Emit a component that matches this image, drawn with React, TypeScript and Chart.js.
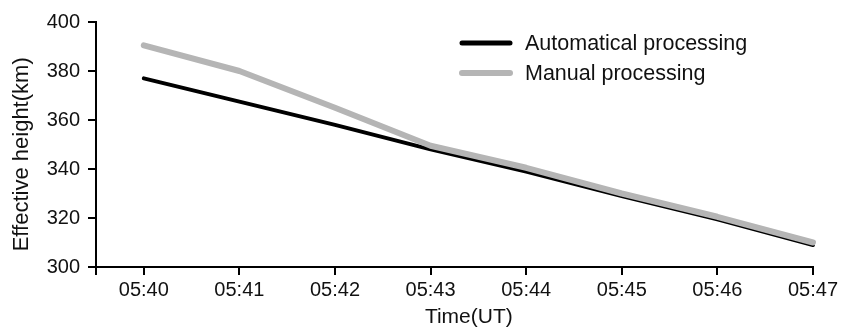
import React, { useEffect, useRef } from 'react';
import { Chart, registerables } from 'chart.js';

Chart.register(...registerables);

const timeLabels = ['05:40', '05:41', '05:42', '05:43', '05:44', '05:45', '05:46', '05:47'];
const automatical = [377, 367.5, 358, 348, 339, 329, 319.5, 309];
const manual = [390.5, 380, 365, 349.5, 340.5, 330, 320.5, 310];
const seriesNames = ['Automatical processing', 'Manual processing'];
const yMin = 300;
const yMax = 400;
const yStep = 20;
const xTitle = 'Time(UT)';
const yTitle = 'Effective height(km)';

const FONT = '"Liberation Sans", Arial, Helvetica, sans-serif';
const TEXT = '#111';

const overlayPlugin = {
  id: 'overlay',
  afterDraw(chart: any) {
    const ctx = chart.ctx;
    ctx.save();
    const lw = [5, 6];
    chart.data.datasets.forEach((ds: any, i: number) => {
      const y = 43 + i * 30;
      ctx.strokeStyle = ds.borderColor;
      ctx.lineWidth = lw[i];
      ctx.lineCap = 'round';
      ctx.beginPath();
      ctx.moveTo(462, y);
      ctx.lineTo(510, y);
      ctx.stroke();
      ctx.fillStyle = TEXT;
      ctx.font = `21.5px ${FONT}`;
      ctx.textBaseline = 'middle';
      ctx.textAlign = 'left';
      ctx.fillText(ds.label, 525, y + 1);
    });
    const xs = chart.scales.x;
    ctx.font = `21px ${FONT}`;
    ctx.textAlign = 'center';
    ctx.textBaseline = 'middle';
    ctx.fillStyle = TEXT;
    ctx.fillText(xTitle, xs.getPixelForValue(3.4), 317);

    const ys = chart.scales.y;
    ctx.translate(22, ys.getPixelForValue(346));
    ctx.rotate(-Math.PI / 2);
    ctx.font = `22px ${FONT}`;
    ctx.fillText(yTitle, 0, 0);
    ctx.restore();
  },
};

export default function App() {
  const ref = useRef<HTMLCanvasElement | null>(null);
  useEffect(() => {
    if (!ref.current) return;
    const chart = new Chart(ref.current, {
      type: 'line',
      data: {
        datasets: [
          {
            label: seriesNames[0],
            data: automatical.map((y, i) => ({ x: i, y })),
            borderColor: '#000000',
            borderWidth: 4,
            borderCapStyle: 'round',
            borderJoinStyle: 'round',
            pointRadius: 0,
            tension: 0,
            clip: false,
            order: 1,
          },
          {
            label: seriesNames[1],
            data: manual.map((y, i) => ({ x: i, y })),
            borderColor: '#b5b5b5',
            borderWidth: 6,
            borderCapStyle: 'round',
            borderJoinStyle: 'round',
            pointRadius: 0,
            tension: 0,
            clip: false,
            order: 0,
          },
        ],
      },
      options: {
        responsive: false,
        animation: false,
        layout: { padding: { top: 22, right: 26, left: 0, bottom: 0 } },
        plugins: { legend: { display: false }, tooltip: { enabled: false } },
        scales: {
          x: {
            type: 'linear',
            min: -0.5,
            max: timeLabels.length - 1,
            afterBuildTicks: (s: any) => {
              s.ticks = [-0.5, ...timeLabels.map((_, i) => i)].map((v) => ({ value: v }));
            },
            afterFit: (s: any) => {
              s.height = 60;
            },
            ticks: {
              autoSkip: false,
              maxRotation: 0,
              padding: 3,
              color: TEXT,
              font: { family: FONT, size: 20 },
              callback: (v: any) => (timeLabels[v as number] ?? ''),
            },
            grid: {
              display: true,
              drawOnChartArea: false,
              drawTicks: true,
              tickLength: 8,
              color: '#000',
              lineWidth: 2,
            },
            border: { display: true, color: '#000', width: 2 },
          },
          y: {
            min: yMin,
            max: yMax,
            afterFit: (s: any) => {
              s.width = 96;
            },
            ticks: {
              stepSize: yStep,
              padding: 8,
              color: TEXT,
              font: { family: FONT, size: 20 },
            },
            grid: {
              display: true,
              drawOnChartArea: false,
              drawTicks: true,
              tickLength: 8,
              color: '#000',
              lineWidth: 2,
            },
            border: { display: true, color: '#000', width: 2 },
          },
        },
      } as any,
      plugins: [overlayPlugin],
    });
    return () => chart.destroy();
  }, []);
  return (
    <div style={{ position: 'fixed', left: 0, top: 0, width: 841, height: 327, background: '#fff' }}>
      <canvas ref={ref} width={841} height={327} style={{ display: 'block' }} />
    </div>
  );
}
